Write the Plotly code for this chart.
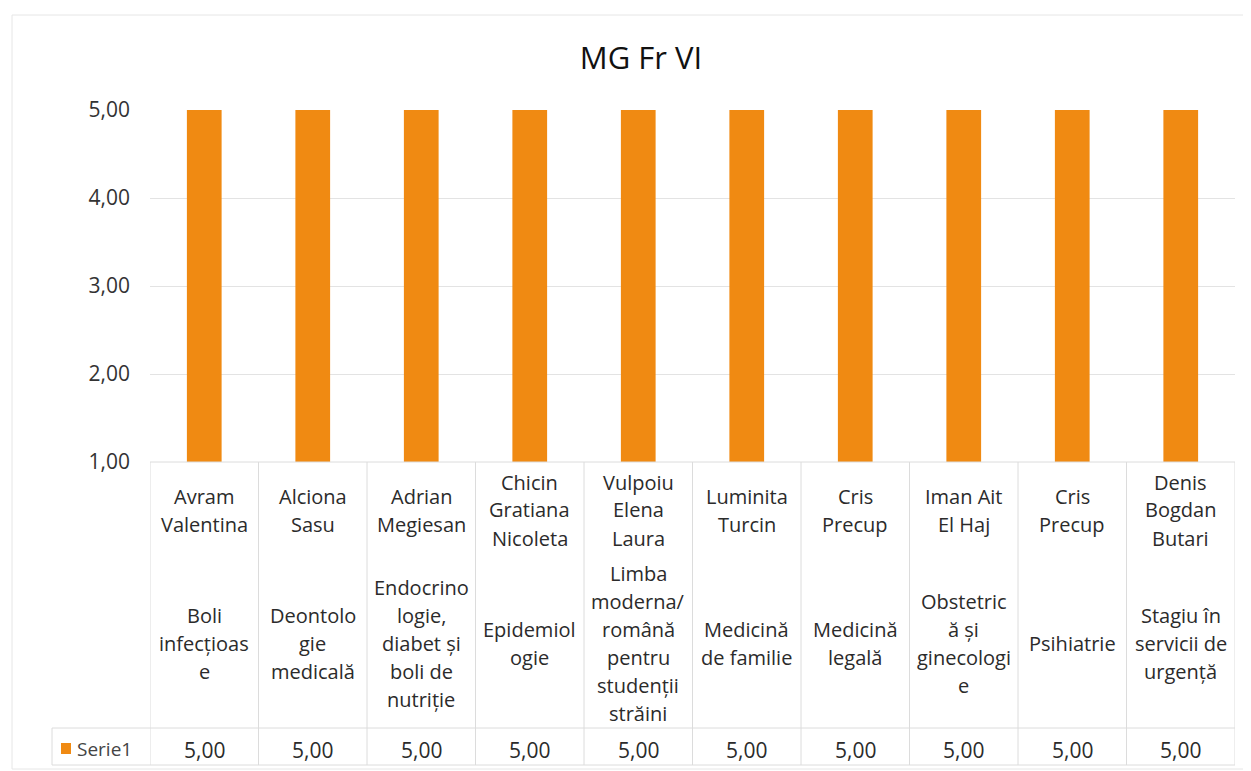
import plotly.graph_objects as go

title = "MG Fr VI"
series_name = "Serie1"
teachers = [
    ["Avram", "Valentina"],
    ["Alciona", "Sasu"],
    ["Adrian", "Megiesan"],
    ["Chicin", "Gratiana", "Nicoleta"],
    ["Vulpoiu", "Elena", "Laura"],
    ["Luminita", "Turcin"],
    ["Cris", "Precup"],
    ["Iman Ait", "El Haj"],
    ["Cris", "Precup"],
    ["Denis", "Bogdan", "Butari"],
]
subjects = [
    ["Boli", "infecțioas", "e"],
    ["Deontolo", "gie", "medicală"],
    ["Endocrino", "logie,", "diabet și", "boli de", "nutriție"],
    ["Epidemiol", "ogie"],
    ["Limba", "moderna/", "română", "pentru", "studenții", "străini"],
    ["Medicină", "de familie"],
    ["Medicină", "legală"],
    ["Obstetric", "ă și", "ginecologi", "e"],
    ["Psihiatrie"],
    ["Stagiu în", "servicii de", "urgență"],
]
values = [5.00, 5.00, 5.00, 5.00, 5.00, 5.00, 5.00, 5.00, 5.00, 5.00]
y_ticks = [1, 2, 3, 4, 5]

# layout constants (pixels, page coordinates; page body has 8px margin)
O = 8
W, H = 1251 - O, 771 - O
PL, PR, PT, PB = 150, 1235, 110, 462   # plot area in page px
L, R, T = PL - O, W - (PR - O), PT - O
B = H - (PB - O)
plot_h = PB - PT
plot_w = PR - PL
FONT = "Open Sans"
BAR = "#F08A12"
LINE = "#DCDCDC"
TXT = "#2b2b2b"
LH = 28  # line height in px
FS = 20


def py(px):
    return (PB - px) / plot_h


def pxx(px):
    return (px - PL) / plot_w


n = len(values)
xs = list(range(n))
base = y_ticks[0]

fig = go.Figure()
fig.add_trace(go.Bar(
    x=xs, y=[v - base for v in values], base=base,
    marker=dict(color=BAR, line=dict(width=0)),
    name=series_name, showlegend=False, hoverinfo="skip",
))

ann = []
shapes = []

for i in xs:
    for block, center in ((teachers[i], 510), (subjects[i], 643)):
        k = len(block)
        for j, line in enumerate(block):
            ypx = center + (j - (k - 1) / 2) * LH
            ann.append(dict(x=i, xref="x", y=py(ypx), yref="paper", text=line,
                            showarrow=False, xanchor="center", yanchor="middle",
                            font=dict(family=FONT, size=FS, color=TXT)))
    ann.append(dict(x=i, xref="x", y=py(750), yref="paper",
                    text=f"{values[i]:.2f}".replace(".", ","),
                    showarrow=False, xanchor="center", yanchor="middle",
                    font=dict(family=FONT, size=21, color=TXT)))

ann.append(dict(x=pxx(75), xref="paper", y=py(749), yref="paper", text=series_name,
                showarrow=False, xanchor="left", yanchor="middle",
                font=dict(family=FONT, size=19, color="#444")))
shapes.append(dict(type="rect", xref="paper", yref="paper",
                   x0=pxx(61), x1=pxx(71), y0=py(743), y1=py(754),
                   fillcolor=BAR, line=dict(width=0)))

for i in range(n + 1):
    shapes.append(dict(type="line", xref="x", yref="paper", x0=i - 0.5, x1=i - 0.5,
                       y0=0, y1=py(765), line=dict(color=LINE, width=1)))
shapes.append(dict(type="line", xref="paper", yref="paper", x0=pxx(52), x1=pxx(52),
                   y0=py(728), y1=py(765), line=dict(color=LINE, width=1)))
for ypx in (728, 765):
    shapes.append(dict(type="line", xref="paper", yref="paper", x0=pxx(52), x1=1,
                       y0=py(ypx), y1=py(ypx), line=dict(color=LINE, width=1)))
shapes.append(dict(type="line", xref="paper", yref="paper", x0=0, x1=1,
                   y0=0, y1=0, line=dict(color=LINE, width=1)))

shapes.append(dict(type="rect", xref="paper", yref="paper",
                   x0=pxx(12), x1=pxx(1246), y0=py(15), y1=py(769),
                   line=dict(color="#E6E6E6", width=1), fillcolor="rgba(0,0,0,0)"))

fig.update_layout(
    width=W, height=H,
    margin=dict(l=L, r=R, t=T, b=B),
    paper_bgcolor="white", plot_bgcolor="white",
    separators=",.",
    title=dict(text=title, xref="container", x=(641 - O) / W, xanchor="center",
               yref="container", y=1 - (58 - O) / H, yanchor="middle",
               font=dict(family=FONT, size=31, color="#111")),
    bargap=0.68,
    xaxis=dict(range=[-0.5, n - 0.5], showticklabels=False, showgrid=False,
               zeroline=False, showline=False, ticks=""),
    yaxis=dict(range=[y_ticks[0], y_ticks[-1]], tickvals=y_ticks, tickformat=".2f",
               showgrid=True, gridcolor="#E3E3E3", gridwidth=1, zeroline=False,
               showline=False, ticks="", ticklabelstandoff=19,
               tickfont=dict(family=FONT, size=21, color="#333")),
    annotations=ann, shapes=shapes,
)

fig.write_html("out.html")
